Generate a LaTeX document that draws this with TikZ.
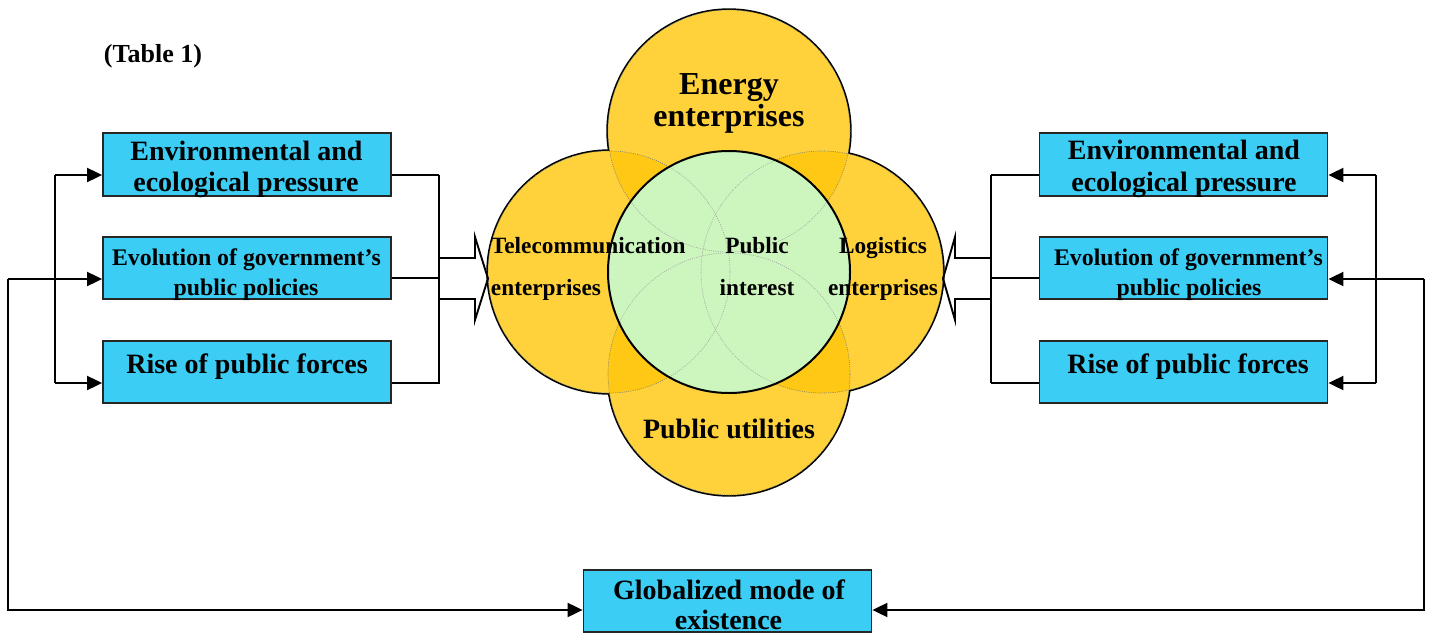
\documentclass[tikz,border=0pt]{standalone}
\usepackage{fontspec}
\setmainfont{Liberation Serif}
\usetikzlibrary{arrows.meta}
\definecolor{cy}{RGB}{60,205,245}
\definecolor{yel}{RGB}{255,210,60}
\definecolor{dk}{RGB}{255,200,20}
\definecolor{grn}{RGB}{205,245,190}
\definecolor{dotc}{RGB}{120,130,120}
\begin{document}
\begin{tikzpicture}[x=1pt,y=-1pt,line width=1.9pt,
  box/.style={draw=black!85,fill=cy,line width=1.8pt,minimum width=288pt,minimum height=62pt,inner sep=0pt},
  tx/.style={anchor=base,inner sep=0pt,font=\bfseries\fontsize{#1}{#1}\selectfont},
  txl/.style={anchor=base west,inner sep=0pt,font=\bfseries\fontsize{#1}{#1}\selectfont},
  circ/.style={circle,minimum size=242pt,inner sep=0pt},
  arr/.style={-{Triangle[length=15pt,width=14pt]}},
  dots/.style={draw=dotc,line width=0.6pt,dash pattern=on 1pt off 1.2pt}]
\useasboundingbox (0,0) rectangle (1429,637);

% circles (named)
\node[circ] (cT) at (729,131) {};
\node[circ] (cL) at (609,272) {};
\node[circ] (cR) at (822,272) {};
\node[circ] (cB) at (729,374) {};
\node[circ] (cG) at (729,272) {};

\foreach \c in {cT,cL,cR,cB} \draw[line width=3.4pt] (\c.center) circle (121pt);
\foreach \c in {cT,cL,cR,cB} \fill[yel] (\c.center) circle (121pt);
\foreach \a/\b in {cT/cL,cT/cR,cB/cL,cB/cR} {
  \begin{scope}
    \clip (\a.center) circle (121pt);
    \fill[dk] (\b.center) circle (121pt);
  \end{scope}
}
\foreach \c in {cT,cL,cR,cB} \draw[dots] (\c.center) circle (121pt);
\fill[grn] (cG.center) circle (121pt);
\begin{scope}
  \clip (cG.center) circle (121pt);
  \foreach \c in {cT,cL,cR,cB} \draw[dots,draw=dotc!70] (\c.center) circle (121pt);
\end{scope}
\draw[line width=2pt] (cG.center) circle (121pt);

% circle texts
\node[tx=32] (e1) at (729,94) {Energy};
\node[tx=32] (e2) at (729,126) {enterprises};
\node[txl=23.3] (t1) at (490,253) {Telecommunication};
\node[txl=23.3] (t2) at (490,295) {enterprises};
\node[tx=23.3] (p1) at (757,253) {Public};
\node[tx=23.3] (p2) at (757,295) {interest};
\node[tx=23.3] (g1) at (883,253) {Logistics};
\node[tx=23.3] (g2) at (883,295) {enterprises};
\node[tx=28] (u1) at (729,438) {Public utilities};
\node[txl=26] (tab) at (103,62) {(Table 1)};

% boxes
\node[box,minimum height=63pt] (L1) at (247,164.5) {};
\node[box] (L2) at (247,268) {};
\node[box] (L3) at (247,372) {};
\node[box,minimum height=63pt] (R1) at (1183.5,164.5) {};
\node[box] (R2) at (1183.5,268) {};
\node[box] (R3) at (1183.5,372) {};
\node[box] (G) at (727.5,601) {};

\node[tx=28] (L1a) at (246.5,160) {Environmental and};
\node[tx=28] (L1b) at (246,191) {ecological pressure};
\node[tx=23.8] (L2a) at (246.5,265) {Evolution of government’s};
\node[tx=23.8] (L2b) at (246,295) {public policies};
\node[tx=28] (L3a) at (247,373) {Rise of public forces};
\node[tx=28] (R1a) at (1184,159) {Environmental and};
\node[tx=28] (R1b) at (1184,191) {ecological pressure};
\node[tx=23.8] (R2a) at (1188.5,265) {Evolution of government’s};
\node[tx=23.8] (R2b) at (1189,295) {public policies};
\node[tx=28] (R3a) at (1188,373) {Rise of public forces};
\node[tx=28] (Ga) at (729,599) {Globalized mode of};
\node[tx=28] (Gb) at (728.5,629) {existence};

% left connectors
\coordinate (lbT) at (439,175);
\coordinate (lbB) at (439,383);
\draw (lbT) -- (lbB);
\draw ([yshift=-10.5pt]L1.east) -- (lbT);
\draw ([yshift=-10pt]L2.east) -- ++(48,0);
\draw ([yshift=-11pt]L3.east) -- ++(48,0);
\draw (439,258) -- (475,258) -- (475,237) -- (488,278.5) -- (475,320) -- (475,299) -- (439,299);
\coordinate (la) at (55,175);
\coordinate (lb) at (55,383);
\draw (la) -- (lb);
\draw[arr] (la) -- ([yshift=-10.5pt]L1.west);
\draw[arr] (lb) -- ([yshift=-11pt]L3.west);
\coordinate (lo) at (8,279);
\draw[arr] (lo) -- ([yshift=-11pt]L2.west);
\draw[arr] (lo) |- ([yshift=-9pt]G.west);

% right connectors
\coordinate (rbT) at (991,175);
\coordinate (rbB) at (991,383);
\draw (rbT) -- (rbB);
\draw ([yshift=-10.5pt]R1.west) -- (rbT);
\draw ([yshift=-10pt]R2.west) -- ++(-48,0);
\draw ([yshift=-11pt]R3.west) -- ++(-48,0);
\draw (991,258) -- (955,258) -- (955,237) -- (943,278.5) -- (955,320) -- (955,299) -- (991,299);
\coordinate (ra) at (1376,175);
\coordinate (rb) at (1376,383);
\draw (ra) -- (rb);
\draw[arr] (ra) -- ([yshift=-10.5pt]R1.east);
\draw[arr] (rb) -- ([yshift=-11pt]R3.east);
\coordinate (ro) at (1424,279);
\draw[arr] (ro) -- ([yshift=-11pt]R2.east);
\draw[arr] (ro) |- ([yshift=-9pt]G.east);
\end{tikzpicture}
\end{document}
